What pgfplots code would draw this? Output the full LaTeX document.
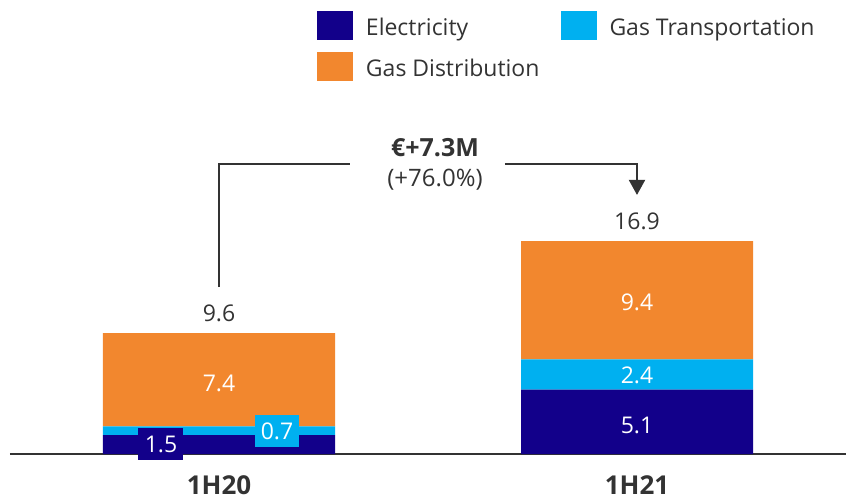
\documentclass[border=0pt]{standalone}
\usepackage{pgfplots}
\pgfplotsset{compat=1.18}
\usetikzlibrary{arrows.meta}
\usepackage{fontspec}
\setmainfont{Open Sans}
\definecolor{elec}{RGB}{18,0,138}
\definecolor{gastr}{RGB}{0,176,240}
\definecolor{gasdi}{RGB}{242,135,46}
\definecolor{txt}{RGB}{51,51,51}
\begin{document}
\begin{tikzpicture}[font=\fontsize{23bp}{28bp}\selectfont]
\begin{axis}[
    set layers,
    scale only axis,
    width=836bp, height=252bp,
    xmin=-0.5, xmax=1.5,
    ymin=0, ymax=20,
    ybar stacked,
    bar width=232bp,
    clip=false,
    axis y line=none,
    axis x line*=bottom,
    x axis line style={draw=txt, line width=2bp, -},
    xtick={0,1},
    xticklabels={1H20,1H21},
    major tick length=0pt,
    xticklabel style={font=\fontsize{26bp}{30bp}\selectfont\bfseries, text=txt, anchor=base, inner sep=0pt, yshift=-40bp},
    legend columns=2,
    legend style={draw=none, fill=none, at={(axis cs:0.2344,35.16)}, anchor=north west,
        inner sep=0pt, outer sep=0pt, text=txt, row sep=12bp,
        font=\fontsize{23bp}{28bp}\selectfont,
        cells={anchor=base west},
        nodes={inner sep=0pt},
        /tikz/every odd column/.append style={column sep=13bp},
        /tikz/every even column/.append style={column sep=21bp}},
]
\addplot[fill=elec, draw=none, legend image code/.code={\fill[elec] (0bp,-4bp) rectangle (36bp,25bp);}]
    coordinates {(0,1.5) (1,5.1)};
\addlegendentry{Electricity}
\addplot[fill=gastr, draw=none, legend image code/.code={\fill[gastr] (0bp,-4bp) rectangle (36bp,25bp);}]
    coordinates {(0,0.7) (1,2.4)};
\addlegendentry{Gas Transportation}
\addplot[fill=gasdi, draw=none, legend image code/.code={\fill[gasdi] (0bp,-4bp) rectangle (36bp,25bp);}]
    coordinates {(0,7.4) (1,9.4)};
\addlegendentry{Gas Distribution}

\pgfplotsextra{%
\begin{pgfonlayer}{axis foreground}
% segment labels
\node[text=white] at (axis cs:0,5.63) {7.4};
\node[text=white] at (axis cs:1,12.06) {9.4};
\node[text=white] at (axis cs:1,6.27) {2.4};
\node[text=white] at (axis cs:1,2.30) {5.1};
\node[fill=elec, text=white, inner sep=0pt, minimum width=45bp, minimum height=32bp] at (axis cs:-0.1388,0.794) {1.5};
\node[fill=gastr, text=white, inner sep=0pt, minimum width=44bp, minimum height=32bp] at (axis cs:0.1388,1.825) {0.7};
% totals
\node[text=txt] at (axis cs:0,11.19) {9.6};
\node[text=txt] at (axis cs:1,18.49) {16.9};
% change bracket
\draw[txt, line width=2bp] (axis cs:0,13.25) |- (axis cs:0.3134,23.02);
\draw[txt, line width=2bp, -{Triangle[width=16bp,length=15bp]}] (axis cs:0.6842,23.02) -| (axis cs:1,20.56);
\node[text=txt, font=\fontsize{25bp}{30bp}\selectfont\bfseries] at (axis cs:0.5167,24.29) {€+7.3M};
\node[text=txt, font=\fontsize{24bp}{28bp}\selectfont] at (axis cs:0.5167,21.75) {(+76.0\%)};
\end{pgfonlayer}}

\coordinate (tl) at (axis cs:-0.52392,36.0317);
\coordinate (br) at (axis cs:1.50718,-3.4127);
\end{axis}
\pgfresetboundingbox
\path[use as bounding box] (tl) rectangle (br);
\end{tikzpicture}
\end{document}
